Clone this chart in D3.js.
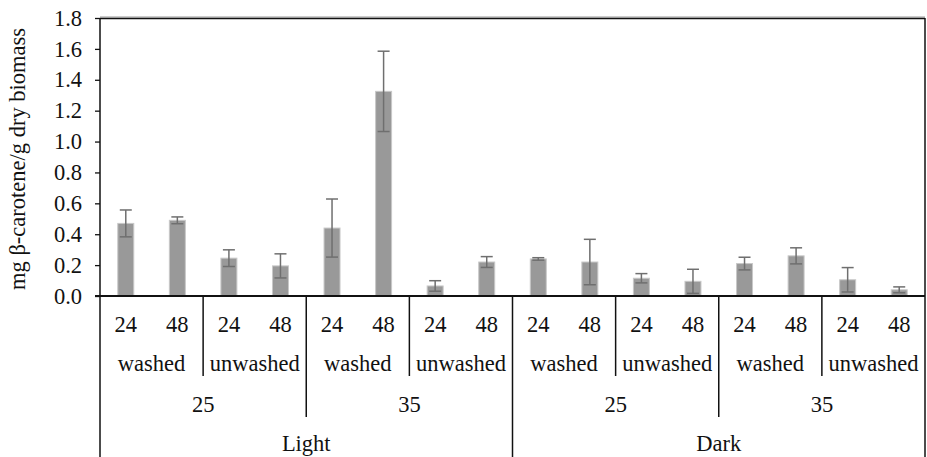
<!DOCTYPE html>
<html>
<head>
<meta charset="utf-8">
<script src="https://cdn.jsdelivr.net/npm/d3@7"></script>
<style>
  body { margin: 0; background: #fff; }
  text { font-family: "Liberation Serif", "Times New Roman", serif; fill: #111; }
</style>
</head>
<body>
<div id="chart"></div>
<script>
// category levels (outer to inner)
var lights = ["Light", "Dark"]
var temps = ["25", "35"]
var washes = ["washed", "unwashed"]
var hours = ["24", "48"]

// mg beta-carotene / g dry biomass, in axis order
var means = [0.47, 0.49, 0.245, 0.195, 0.44, 1.325, 0.065, 0.22,
             0.24, 0.22, 0.115, 0.095, 0.21, 0.26, 0.105, 0.04]
var errs = [0.087, 0.022, 0.054, 0.078, 0.188, 0.26, 0.034, 0.035,
            0.008, 0.147, 0.03, 0.078, 0.041, 0.052, 0.079, 0.019]

var yTicks = [0, 0.2, 0.4, 0.6, 0.8, 1.0, 1.2, 1.4, 1.6, 1.8]

var W = 927, H = 457
var plotLeft = 100, plotRight = 925, plotTop = 18, base = 296
var fs = "22.5px"

var svg = d3.select("#chart").append("svg")
    .attr("width", W)
    .attr("height", H)

// build the flat list of categories
var cats = []
lights.forEach(function (l) {
    temps.forEach(function (t) {
        washes.forEach(function (w) {
            hours.forEach(function (h) {
                cats.push({ light: l, temp: t, wash: w, hour: h, i: cats.length })
            })
        })
    })
})

var x = d3.scaleBand()
    .domain(cats.map(function (d) { return d.i }))
    .range([plotLeft, plotRight])
    .padding(0)

var y = d3.scaleLinear()
    .domain([0, 1.8])
    .range([base, plotTop])

var bw = x.bandwidth() * 0.31

// top border line
svg.append("line")
    .attr("x1", plotLeft).attr("x2", plotRight)
    .attr("y1", y(1.8) - 1).attr("y2", y(1.8) - 1)
    .style("stroke", "#999").style("stroke-width", 1)
svg.append("line")
    .attr("x1", plotLeft).attr("x2", plotRight)
    .attr("y1", y(1.8) + 0.5).attr("y2", y(1.8) + 0.5)
    .style("stroke", "#111").style("stroke-width", 1.5)

// y axis
var yAxis = svg.append("g")
    .attr("transform", "translate(" + plotLeft + ",0)")
    .call(d3.axisLeft(y).tickValues(yTicks).tickFormat(d3.format(".1f")).tickSize(5).tickPadding(13))
yAxis.select(".domain").remove()
yAxis.selectAll(".tick line").style("stroke", "#111").style("stroke-width", 1.3)
yAxis.selectAll(".tick text")
    .style("font-size", fs)
    .style("font-family", "Liberation Serif")
    .style("fill", "#111")

// bars
svg.selectAll(".bar")
    .data(cats)
    .enter()
    .append("rect")
    .attr("class", "bar")
    .attr("x", function (d) { return x(d.i) + x.bandwidth() / 2 - bw / 2 })
    .attr("y", function (d) { return y(means[d.i]) })
    .attr("width", bw)
    .attr("height", function (d) { return base - y(means[d.i]) })
    .style("fill", "#999999")
    .style("stroke", "#c8c8c8")
    .style("stroke-width", 1)

// error bars
var eb = svg.selectAll(".err")
    .data(cats)
    .enter()
    .append("g")
    .attr("class", "err")
    .style("stroke", "#6f6f6f")
    .style("stroke-width", 1.5)

eb.append("line")
    .attr("x1", function (d) { return x(d.i) + x.bandwidth() / 2 })
    .attr("x2", function (d) { return x(d.i) + x.bandwidth() / 2 })
    .attr("y1", function (d) { return y(means[d.i] + errs[d.i]) })
    .attr("y2", function (d) { return y(Math.max(0, means[d.i] - errs[d.i])) })
;[1, -1].forEach(function (s) {
    eb.append("line")
        .attr("x1", function (d) { return x(d.i) + x.bandwidth() / 2 - 6 })
        .attr("x2", function (d) { return x(d.i) + x.bandwidth() / 2 + 6 })
        .attr("y1", function (d) { return y(Math.max(0, means[d.i] + s * errs[d.i])) })
        .attr("y2", function (d) { return y(Math.max(0, means[d.i] + s * errs[d.i])) })
})

// axes lines
svg.append("line")
    .attr("x1", plotLeft).attr("x2", plotLeft)
    .attr("y1", plotTop).attr("y2", H)
    .style("stroke", "#111").style("stroke-width", 1.5)
svg.append("line")
    .attr("x1", plotRight).attr("x2", plotRight)
    .attr("y1", plotTop).attr("y2", H)
    .style("stroke", "#111").style("stroke-width", 1.5)
svg.append("line")
    .attr("x1", plotLeft - 5).attr("x2", plotRight)
    .attr("y1", base).attr("y2", base)
    .style("stroke", "#111").style("stroke-width", 2.2)

// group dividers: every 2 -> wash, 4 -> temp, 8 -> light
var dividers = []
for (var k = 2; k < cats.length; k += 2) {
    var bottom = k % 8 == 0 ? H : (k % 4 == 0 ? 417 : 376)
    dividers.push({ k: k, bottom: bottom })
}
svg.selectAll(".div")
    .data(dividers)
    .enter()
    .append("line")
    .attr("x1", function (d) { return x(d.k) })
    .attr("x2", function (d) { return x(d.k) })
    .attr("y1", base)
    .attr("y2", function (d) { return d.bottom })
    .style("stroke", "#111")
    .style("stroke-width", 1.5)

// category labels
function groupLabels(size, key, yPos) {
    var groups = []
    for (var s = 0; s < cats.length; s += size) {
        groups.push({ label: cats[s][key], cx: (x(s) + x(s + size - 1) + x.bandwidth()) / 2 })
    }
    svg.selectAll(".lab-" + key)
        .data(groups)
        .enter()
        .append("text")
        .attr("class", "lab-" + key)
        .attr("x", function (d) { return d.cx })
        .attr("y", yPos)
        .attr("text-anchor", "middle")
        .style("font-size", fs)
        .text(function (d) { return d.label })
}
groupLabels(1, "hour", 332)
groupLabels(2, "wash", 371)
groupLabels(4, "temp", 412)
groupLabels(8, "light", 451)

// y axis title
svg.append("text")
    .attr("transform", "translate(25," + 159 + ") rotate(-90)")
    .attr("text-anchor", "middle")
    .style("font-size", fs)
    .text("mg β-carotene/g dry biomass")
</script>
</body>
</html>
